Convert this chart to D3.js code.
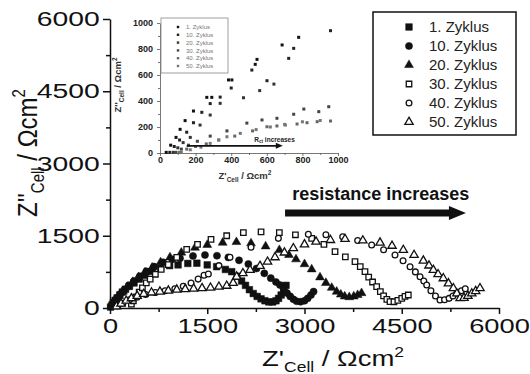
<!DOCTYPE html>
<html>
<head>
<meta charset="utf-8">
<script src="https://cdn.jsdelivr.net/npm/d3@7"></script>
<style>
  body { margin: 0; background: #fff; }
  svg { display: block; font-family: "Liberation Sans", Arial, sans-serif; }
</style>
</head>
<body>
<div id="chart"></div>
<script>
// legend names of the six cycles
const cycleNames = ["1. Zyklus", "10. Zyklus", "20. Zyklus", "30. Zyklus", "40. Zyklus", "50. Zyklus"];

// main plot: [Z' , Z''] in Ohm cm2
const cycle1 = [
  [10, 20], [30, 60], [50, 110], [80, 160], [110, 210], [150, 270], [190, 330], [240, 390],
  [300, 450], [370, 520], [450, 600], [540, 680], [650, 760], [780, 830], [920, 880], [1050, 895],
  [1200, 925], [1340, 930], [1500, 895], [1645, 858], [1780, 800], [1877, 754], [1960, 660],
  [2030, 560], [2090, 470], [2150, 380], [2210, 300], [2270, 240], [2330, 190], [2390, 150],
  [2450, 125], [2510, 125], [2560, 150], [2600, 200], [2640, 270], [2680, 360], [2715, 470]
];
const cycle10 = [
  [15, 30], [40, 80], [70, 140], [110, 210], [160, 290], [220, 380], [290, 470], [370, 560],
  [460, 660], [560, 760], [680, 860], [820, 950], [960, 1010], [1080, 1031], [1280, 1080],
  [1465, 1100], [1650, 1085], [1825, 1050], [1990, 990], [2134, 913], [2260, 820], [2380, 720],
  [2480, 620], [2560, 540], [2622, 477], [2680, 390], [2730, 310], [2780, 240], [2830, 180],
  [2880, 140], [2940, 130], [3000, 150], [3050, 200], [3100, 270], [3140, 340]
];
const cycle20 = [
  [20, 40], [50, 100], [90, 170], [140, 250], [200, 340], [270, 440], [350, 540], [440, 640],
  [540, 740], [650, 840], [780, 950], [925, 1052], [1100, 1150], [1311, 1252], [1500, 1310],
  [1738, 1356], [1950, 1370], [2175, 1343], [2400, 1280], [2612, 1204], [2760, 1100],
  [2869, 1011], [3000, 910], [3111, 803], [3239, 637], [3330, 520], [3420, 420], [3496, 339],
  [3560, 280], [3620, 240], [3690, 225], [3760, 240], [3820, 270], [3880, 310]
];
const cycle30 = [
  [330, 80], [360, 150], [400, 230], [450, 330], [500, 420], [560, 520], [620, 600], [700, 700],
  [790, 800], [900, 900], [1030, 1050], [1183, 1218], [1350, 1320], [1558, 1426], [1800, 1500],
  [2057, 1564], [2330, 1580], [2612, 1564], [2860, 1520], [3111, 1446], [3300, 1320],
  [3471, 1169], [3630, 1060], [3779, 962], [3860, 860], [3933, 754], [3990, 640], [4050, 540],
  [4113, 442], [4170, 340], [4220, 250], [4270, 180], [4319, 131], [4380, 130], [4440, 160],
  [4500, 200], [4550, 240], [4601, 270]
];
const cycle40 = [
  [120, 40], [200, 100], [300, 170], [420, 230], [550, 280], [700, 320], [850, 360], [1000, 400],
  [1130, 450], [1250, 520], [1360, 600], [1450, 680], [1517, 706], [1680, 880], [1851, 1052],
  [2175, 1260], [2597, 1446], [3059, 1530], [3330, 1520], [3589, 1481], [3820, 1400],
  [4036, 1308], [4220, 1210], [4396, 1100], [4520, 980], [4628, 858], [4710, 750], [4782, 650],
  [4840, 560], [4885, 477], [4950, 360], [5020, 250], [5090, 166], [5160, 170], [5230, 200],
  [5290, 250], [5348, 305], [5420, 360], [5480, 400]
];
const cycle50 = [
  [100, 30], [170, 90], [250, 150], [330, 200], [420, 250], [520, 290], [640, 320], [770, 340],
  [900, 360], [1030, 380], [1160, 390], [1290, 400], [1420, 410], [1550, 420], [1680, 440],
  [1800, 460], [1900, 520], [1954, 650], [2050, 720], [2160, 789], [2314, 872], [2430, 960],
  [2545, 1052], [2690, 1150], [2828, 1239], [3000, 1320], [3178, 1376], [3400, 1410],
  [3625, 1432], [3900, 1400], [4165, 1356], [4350, 1290], [4524, 1204], [4690, 1100],
  [4833, 982], [4920, 880], [4987, 789], [5060, 700], [5141, 616], [5220, 510], [5296, 409],
  [5350, 300], [5399, 201], [5460, 210], [5520, 250], [5580, 300], [5640, 350], [5707, 409]
];

// inset plot (0..1000 Ohm cm2)
const inset1 = [
  [35, 5], [60, 60], [90, 120], [113, 182], [141, 249], [188, 323], [263, 428], [291, 428],
  [385, 562], [404, 562], [535, 682], [545, 720], [686, 831], [779, 890]
];
const inset10 = [
  [55, 5], [80, 50], [110, 100], [150, 160], [188, 233], [235, 313], [282, 380], [338, 430],
  [400, 500], [516, 638], [601, 556], [723, 728], [751, 805], [958, 941]
];
const inset20 = [
  [75, 5], [100, 40], [130, 80], [170, 120], [225, 215], [282, 292], [338, 382], [469, 425],
  [560, 480], [640, 530]
];
const inset30 = [
  [90, 5], [120, 30], [160, 60], [210, 90], [282, 130], [376, 170], [488, 230], [573, 254],
  [657, 267], [751, 298], [808, 338], [892, 318], [948, 356]
];
const inset40 = [
  [110, 5], [150, 30], [200, 50], [260, 70], [330, 100], [420, 130], [520, 170], [601, 202],
  [657, 208], [704, 215], [770, 223], [826, 233], [883, 241], [958, 246]
];
const inset50 = [
  [120, 5], [170, 25], [230, 45], [282, 74], [330, 100], [376, 125], [451, 151], [540, 180],
  [620, 200], [700, 220], [800, 240], [900, 250]
];

// ticks
const mainTicks = [0, 1500, 3000, 4500, 6000];
const mainMinorTicks = [750, 2250, 3750, 5250];
const insetTicks = [0, 200, 400, 600, 800, 1000];
const insetMinorTicks = [100, 300, 500, 700, 900];

// annotation: arrow from / to (Z') at height (Z'')
const arrowFrom = 2700, arrowTo = 5490, arrowAt = 1972;
const insetArrowFrom = 150, insetArrowTo = 690, insetArrowAt = 55;

const mainSeries = [cycle1, cycle10, cycle20, cycle30, cycle40, cycle50];
const insetSeries = [inset1, inset10, inset20, inset30, inset40, inset50];

const symbolTypes = [d3.symbolSquare, d3.symbolCircle, d3.symbolTriangle, d3.symbolSquare, d3.symbolCircle, d3.symbolTriangle];
const symbolSizes = [44, 40, 34, 30, 26, 30];
const filled = [true, true, true, false, false, false];

const svg = d3.select("#chart").append("svg").attr("width", 530).attr("height", 374);

// scales
const x = d3.scaleLinear().domain([0, 6000]).range([110, 499]);
const y = d3.scaleLinear().domain([0, 6000]).range([308, 19]);
const ix = d3.scaleLinear().domain([0, 1000]).range([160, 338]);
const iy = d3.scaleLinear().domain([0, 1000]).range([153, 23]);

// ---------- main axes ----------
const gx = svg.append("g").attr("transform", `translate(0, ${y(0)})`);
gx.call(d3.axisBottom(x).tickValues(mainTicks).tickSize(6).tickSizeOuter(0).tickFormat(d3.format("d")));
gx.append("g").call(d3.axisBottom(x).tickValues(mainMinorTicks).tickSize(4).tickFormat(""))
  .select(".domain").remove();
gx.selectAll("text").attr("y", 10).attr("font-size", 21).attr("fill", "#111")
  .attr("transform", "scale(1.3,1)").style("font-family", "Liberation Sans, Arial, sans-serif");

const gy = svg.append("g").attr("transform", `translate(${x(0)}, 0)`);
gy.call(d3.axisLeft(y).tickValues(mainTicks).tickSize(7).tickSizeOuter(0).tickFormat(d3.format("d")));
gy.append("g").call(d3.axisLeft(y).tickValues(mainMinorTicks).tickSize(4).tickFormat(""))
  .select(".domain").remove();
gy.selectAll("text").attr("x", -7.5).attr("font-size", 21).attr("fill", "#111")
  .attr("transform", "scale(1.35,1)").style("font-family", "Liberation Sans, Arial, sans-serif");

svg.selectAll(".domain, .tick line").attr("stroke", "#111").attr("stroke-width", 1.5);

// axis titles
const xTitle = svg.append("g").attr("transform", "translate(333, 366) scale(1.25,1)")
  .append("text").attr("text-anchor", "middle").attr("font-size", 22).attr("fill", "#111");
xTitle.append("tspan").text("Z'");
xTitle.append("tspan").attr("font-size", 14).attr("dy", 6).text("Cell");
xTitle.append("tspan").attr("dy", -6).text(" / Ωcm");
xTitle.append("tspan").attr("font-size", 14).attr("dy", -9).text("2");

const yTitle = svg.append("g").attr("transform", "translate(37, 153) scale(1.18,1) rotate(-90)")
  .append("text").attr("text-anchor", "middle").attr("font-size", 24).attr("fill", "#111");
yTitle.append("tspan").text("Z''");
yTitle.append("tspan").attr("font-size", 15).attr("dy", 6).text("Cell");
yTitle.append("tspan").attr("dy", -6).text(" / Ωcm");
yTitle.append("tspan").attr("font-size", 15).attr("dy", -10).text("2");

// ---------- main data ----------
const marker = (i) => d3.symbol().type(symbolTypes[i]).size(symbolSizes[i]);

mainSeries.forEach((data, i) => {
  svg.append("g")
    .selectAll("path")
    .data(data)
    .join("path")
    .attr("transform", (d) => `translate(${x(d[0])}, ${y(d[1])})`)
    .attr("d", marker(i))
    .attr("fill", filled[i] ? "#111" : "#fff")
    .attr("stroke", "#111")
    .attr("stroke-width", filled[i] ? 0.5 : 1.3);
});

// arrow "resistance increases"
svg.append("text")
  .attr("x", x(arrowFrom + 110)).attr("y", y(arrowAt + 270))
  .attr("font-size", 18).attr("font-weight", "bold").attr("fill", "#111")
  .text("resistance increases");
svg.append("line")
  .attr("x1", x(arrowFrom)).attr("x2", x(arrowTo) - 14)
  .attr("y1", y(arrowAt)).attr("y2", y(arrowAt))
  .attr("stroke", "#111").attr("stroke-width", 7);
svg.append("path")
  .attr("d", `M${x(arrowTo)},${y(arrowAt)} L${x(arrowTo) - 17},${y(arrowAt) - 7} L${x(arrowTo) - 17},${y(arrowAt) + 7} Z`)
  .attr("fill", "#111");

// main legend
const legend = svg.append("g");
legend.append("rect").attr("x", 373).attr("y", 12).attr("width", 143).attr("height", 123)
  .attr("fill", "none").attr("stroke", "#111").attr("stroke-width", 1.5);
cycleNames.forEach((name, i) => {
  const row = legend.append("g").attr("transform", `translate(409, ${27 + i * 19})`);
  row.append("path").attr("d", marker(i))
    .attr("fill", filled[i] ? "#111" : "#fff").attr("stroke", "#111")
    .attr("stroke-width", filled[i] ? 0.5 : 1.3);
  row.append("text").attr("x", 20).attr("dy", "0.36em").attr("font-size", 15)
    .attr("fill", "#222").text(name);
});

// ---------- inset ----------
const inset = svg.append("g");
const igx = inset.append("g").attr("transform", `translate(0, ${iy(0)})`);
igx.call(d3.axisBottom(ix).tickValues(insetTicks).tickSize(3).tickSizeOuter(0).tickFormat(d3.format("d")));
igx.append("g").call(d3.axisBottom(ix).tickValues(insetMinorTicks).tickSize(2).tickFormat(""))
  .select(".domain").remove();
igx.selectAll("text").attr("y", 4).attr("font-size", 9).attr("font-weight", "bold");

const igy = inset.append("g").attr("transform", `translate(${ix(0)}, 0)`);
igy.call(d3.axisLeft(iy).tickValues(insetTicks).tickSize(3).tickSizeOuter(0).tickFormat(d3.format("d")));
igy.append("g").call(d3.axisLeft(iy).tickValues(insetMinorTicks).tickSize(2).tickFormat(""))
  .select(".domain").remove();
igy.selectAll("text").attr("x", -7).attr("font-size", 9).attr("font-weight", "bold");

inset.selectAll("text").attr("fill", "#222").style("font-family", "Liberation Sans, Arial, sans-serif");
inset.selectAll(".domain, .tick line").attr("stroke", "#555").attr("stroke-width", 0.8);

const ixTitle = inset.append("text").attr("x", 245).attr("y", 179).attr("text-anchor", "middle")
  .attr("font-size", 9.5).attr("font-weight", "bold").attr("fill", "#333");
ixTitle.append("tspan").text("Z'");
ixTitle.append("tspan").attr("font-size", 6.5).attr("dy", 3).text("Cell");
ixTitle.append("tspan").attr("dy", -3).text(" / Ωcm");
ixTitle.append("tspan").attr("font-size", 6.5).attr("dy", -4).text("2");

const iyTitle = inset.append("g").attr("transform", "translate(121, 85) rotate(-90)")
  .append("text").attr("text-anchor", "middle").attr("font-size", 9.5).attr("font-weight", "bold")
  .attr("fill", "#333");
iyTitle.append("tspan").text("Z''");
iyTitle.append("tspan").attr("font-size", 6.5).attr("dy", 3).text("Cell");
iyTitle.append("tspan").attr("dy", -3).text(" / Ωcm");
iyTitle.append("tspan").attr("font-size", 6.5).attr("dy", -4).text("2");

const insetShades = ["#111", "#222", "#333", "#444", "#666", "#777"];
insetSeries.forEach((data, i) => {
  inset.append("g")
    .selectAll("rect")
    .data(data)
    .join("rect")
    .attr("x", (d) => ix(d[0]) - 1.5)
    .attr("y", (d) => iy(d[1]) - 1.5)
    .attr("width", 3).attr("height", 3)
    .attr("fill", insetShades[i]);
});

// inset arrow "Rct increases"
inset.append("line")
  .attr("x1", ix(insetArrowFrom)).attr("x2", ix(insetArrowTo) - 5)
  .attr("y1", iy(insetArrowAt)).attr("y2", iy(insetArrowAt))
  .attr("stroke", "#111").attr("stroke-width", 1.6);
inset.append("path")
  .attr("d", `M${ix(insetArrowTo)},${iy(insetArrowAt)} l-7,-3 l0,6 Z`).attr("fill", "#111");
const rct = inset.append("text").attr("x", ix(insetArrowFrom + 380)).attr("y", iy(insetArrowAt + 30))
  .attr("font-size", 6.5).attr("font-weight", "bold").attr("fill", "#222");
rct.append("tspan").text("R");
rct.append("tspan").attr("font-size", 4.5).attr("dy", 1.5).text("ct");
rct.append("tspan").attr("dy", -1.5).text(" increases");

// inset legend
const ilegend = inset.append("g");
ilegend.append("rect").attr("x", 161).attr("y", 18).attr("width", 67).attr("height", 55)
  .attr("fill", "#fff").attr("stroke", "#888").attr("stroke-width", 0.8);
cycleNames.forEach((name, i) => {
  const row = ilegend.append("g").attr("transform", `translate(178, ${27 + i * 7.8})`);
  row.append("rect").attr("x", -1.2).attr("y", -1.2).attr("width", 2.4).attr("height", 2.4)
    .attr("fill", insetShades[i]);
  row.append("text").attr("x", 8).attr("dy", "0.35em").attr("font-size", 6)
    .attr("fill", "#777").text(name);
});
</script>
</body>
</html>
